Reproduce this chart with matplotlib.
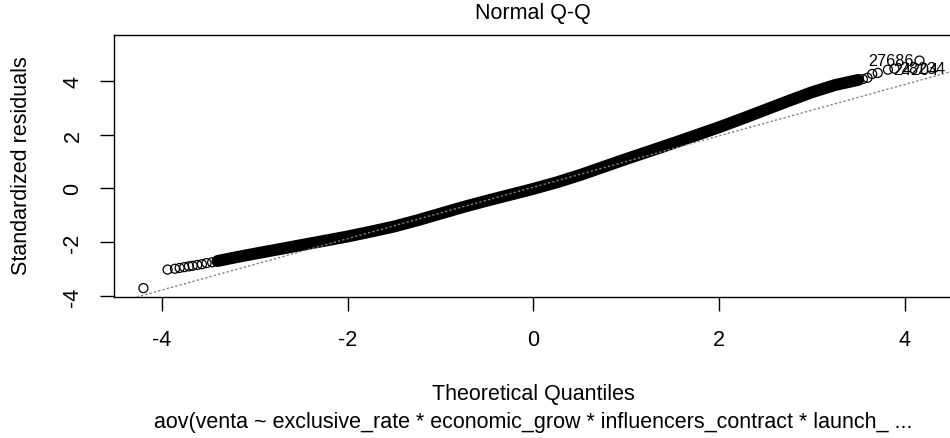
import matplotlib.pyplot as plt

plt.rcParams['font.family'] = ['Liberation Sans', 'DejaVu Sans']

# sorted standardized residuals vs normal quantiles (dense middle of the sample)
band_q = [-3.40, -3.20, -3.00, -2.75, -2.50, -2.25, -2.00, -1.75, -1.50, -1.25,
          -1.00, -0.75, -0.50, -0.25, 0.00, 0.25, 0.50, 0.75, 1.00, 1.25,
          1.50, 1.75, 2.00, 2.25, 2.50, 2.75, 3.00, 3.25, 3.50]
band_r = [-2.70, -2.56, -2.43, -2.27, -2.11, -1.95, -1.79, -1.61, -1.42, -1.19,
          -0.94, -0.69, -0.46, -0.24, -0.02, 0.22, 0.49, 0.79, 1.09, 1.38,
          1.67, 1.97, 2.27, 2.59, 2.92, 3.25, 3.57, 3.84, 4.03]

# sparse tails
low_q = [-4.20, -3.94, -3.86, -3.81, -3.76, -3.71, -3.67, -3.62, -3.57, -3.52, -3.46, -3.41]
low_r = [-3.71, -3.02, -2.99, -2.96, -2.93, -2.90, -2.88, -2.85, -2.82, -2.78, -2.75, -2.72]
high_q = [3.55, 3.60, 3.65, 3.71]
high_r = [4.06, 4.11, 4.25, 4.29]

# three largest |residuals| with their row names
ext_q = [3.82, 3.89, 4.16]
ext_r = [4.41, 4.45, 4.75]
ext_id = ['24204', '28234', '27686']

# qqline (through the quartiles)
line_a = 0.04
line_b = 0.955

fs = 15.5

fig = plt.figure(figsize=(9.5, 4.39), dpi=100)
ax = fig.add_axes([114 / 950, 1 - 298 / 439, (952 - 114) / 950, (298 - 36) / 439])

ax.plot(band_q, band_r, color='black', lw=8.6, solid_capstyle='round', zorder=2)
ax.scatter(low_q + high_q + ext_q, low_r + high_r + ext_r, s=42,
           facecolors='none', edgecolors='black', linewidths=0.9, zorder=3)
ax.axline((0, line_a), slope=line_b, color='#808080', lw=1.0,
          linestyle=(0, (1.6, 1.6)), zorder=4)

mid = (min(ext_q) + max(ext_q)) / 2
for q, r, lab in zip(ext_q, ext_r, ext_id):
    if q > mid:
        ax.annotate(lab, (q, r), xytext=(-4, 0), textcoords='offset points',
                    ha='right', va='center', fontsize=fs * 0.75, annotation_clip=False)
    else:
        ax.annotate(lab, (q, r), xytext=(4, 0), textcoords='offset points',
                    ha='left', va='center', fontsize=fs * 0.75, annotation_clip=False)

ax.set_xlim(-4.517, 4.51)
ax.set_ylim(-4.04, 5.70)
ax.set_xticks([-4, -2, 0, 2, 4])
ax.set_yticks([-4, -2, 0, 2, 4])
ax.set_xticklabels(['-4', '-2', '0', '2', '4'])
ax.set_yticklabels(['-4', '-2', '0', '2', '4'])
for s in ax.spines.values():
    s.set_linewidth(1.0)
ax.tick_params(axis='both', direction='out', length=10, width=1.0, labelsize=fs)
ax.tick_params(axis='x', pad=13)
ax.tick_params(axis='y', pad=12, labelrotation=90)
for t in ax.get_yticklabels():
    t.set_va('center')

cx = 533 / 950
fig.text(cx, 1 - 14 / 439, 'Normal Q-Q', ha='center', va='center', fontsize=fs)
fig.text(cx, 1 - 395 / 439, 'Theoretical Quantiles', ha='center', va='center', fontsize=fs)
fig.text(cx, 1 - 423 / 439,
         'aov(venta ~ exclusive_rate * economic_grow * influencers_contract * launch_ ...',
         ha='center', va='center', fontsize=fs)
fig.text(22 / 950, 1 - 166 / 439, 'Standardized residuals', rotation=90,
         ha='center', va='center', fontsize=fs)

fig.savefig('out.png', dpi=100)
